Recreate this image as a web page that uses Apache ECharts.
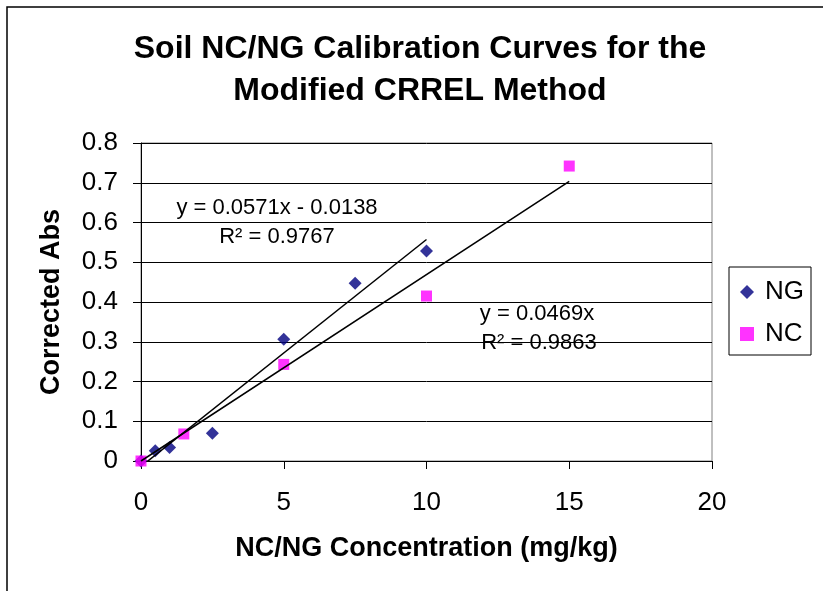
<!DOCTYPE html>
<html>
<head>
<meta charset="utf-8">
<script src="https://cdn.jsdelivr.net/npm/echarts@6/dist/echarts.min.js"></script>
<style>
    html, body { margin: 0; padding: 0; background: #fff; }
    #main { width: 823px; height: 591px; }
</style>
</head>
<body>
<div id="main"></div>
<script>
// concentration (mg/kg) vs corrected absorbance
var ngX = [0, 0.5, 1, 2.5, 5, 7.5, 10];
var ngY = [0, 0.026, 0.034, 0.070, 0.306, 0.447, 0.528];
var ncX = [0, 1.5, 5, 10, 15];
var ncY = [0, 0.068, 0.243, 0.415, 0.742];

// trendline coefficients as printed on the chart
var ngFit = {slope: 0.0571, intercept: -0.0138, r2: '0.9767'};
var ncFit = {slope: 0.0469, intercept: 0, r2: '0.9863'};

var xTicks = [0, 5, 10, 15, 20];
var yTicks = [0, 0.1, 0.2, 0.3, 0.4, 0.5, 0.6, 0.7, 0.8];

var FONT = '"Liberation Sans", Arial, sans-serif';

function pairs(xs, ys) {
    var out = [];
    for (var i = 0; i < xs.length; i++) {
        out.push([xs[i], ys[i]]);
    }
    return out;
}

function fitLine(xs, fit) {
    var x0 = Math.min.apply(null, xs), x1 = Math.max.apply(null, xs);
    return [[x0, fit.slope * x0 + fit.intercept], [x1, fit.slope * x1 + fit.intercept]];
}

function eqText(fit) {
    var s = 'y = ' + fit.slope + 'x';
    if (fit.intercept < 0) s += ' - ' + Math.abs(fit.intercept);
    else if (fit.intercept > 0) s += ' + ' + fit.intercept;
    return s;
}

var chart = echarts.init(document.getElementById('main'));

var option = {
    backgroundColor: '#fff',
    animation: false,
    title: {
        text: 'Soil NC/NG Calibration Curves for the\nModified CRREL Method',
        left: 415,
        top: 23,
        textAlign: 'center',
        textStyle: {
            fontFamily: FONT,
            fontSize: 32,
            fontWeight: 'bold',
            color: '#000',
            lineHeight: 42
        }
    },
    legend: {
        data: ['NG', 'NC'],
        orient: 'vertical',
        left: 729,
        top: 267,
        padding: [10, 7, 6, 11],
        itemGap: 12,
        itemWidth: 14,
        itemHeight: 14,
        borderColor: '#000',
        borderWidth: 1,
        backgroundColor: '#fff',
        textStyle: {
            fontFamily: FONT,
            fontSize: 26,
            color: '#000',
            lineHeight: 30,
            padding: [0, 0, 0, 6]
        }
    },
    grid: {
        left: 141,
        top: 143,
        right: 111,
        bottom: 130,
        show: true,
        borderColor: '#808080',
        borderWidth: 1,
        backgroundColor: '#fff'
    },
    xAxis: {
        type: 'value',
        min: xTicks[0],
        max: xTicks[xTicks.length - 1],
        interval: 5,
        name: 'NC/NG Concentration (mg/kg)',
        nameLocation: 'middle',
        nameGap: 74,
        nameTextStyle: {fontFamily: FONT, fontSize: 27, fontWeight: 'bold', color: '#000'},
        axisLine: {show: true, onZero: false, lineStyle: {color: '#000', width: 1}},
        axisTick: {show: true, inside: false, length: 8, lineStyle: {color: '#000'}},
        axisLabel: {fontFamily: FONT, fontSize: 26, color: '#000', margin: 29},
        splitLine: {show: false}
    },
    yAxis: {
        type: 'value',
        min: yTicks[0],
        max: yTicks[yTicks.length - 1],
        interval: 0.1,
        name: 'Corrected Abs',
        nameLocation: 'middle',
        nameGap: 76,
        nameTextStyle: {fontFamily: FONT, fontSize: 27, fontWeight: 'bold', color: '#000'},
        axisLine: {show: true, onZero: false, lineStyle: {color: '#000', width: 1}},
        axisTick: {show: true, inside: false, length: 8, lineStyle: {color: '#000'}},
        axisLabel: {
            fontFamily: FONT, fontSize: 26, color: '#000', margin: 23,
            formatter: function (v) { return String(+v.toFixed(1)); }
        },
        splitLine: {show: true, lineStyle: {color: '#000', width: 1}}
    },
    series: [
        {
            name: 'NG',
            type: 'scatter',
            symbol: 'diamond',
            symbolSize: 13,
            itemStyle: {color: '#000080'},
            data: pairs(ngX, ngY)
        },
        {
            name: 'NC',
            type: 'scatter',
            symbol: 'rect',
            symbolSize: 11,
            itemStyle: {color: '#FF00FF'},
            data: pairs(ncX, ncY)
        },
        {
            name: 'NG trend',
            type: 'line',
            symbol: 'none',
            silent: true,
            clip: true,
            lineStyle: {color: '#000', width: 1.5},
            data: fitLine(ngX, ngFit)
        },
        {
            name: 'NC trend',
            type: 'line',
            symbol: 'none',
            silent: true,
            clip: true,
            lineStyle: {color: '#000', width: 1.5},
            data: fitLine(ncX, ncFit)
        }
    ],
    graphic: [
        {
            type: 'rect',
            shape: {x: 7, y: 7, width: 840, height: 620},
            style: {fill: 'none', stroke: '#000', lineWidth: 1.5},
            silent: true,
            z: 0
        },
        {
            type: 'text', x: 277, y: 208,
            style: {text: eqText(ngFit), font: '22px ' + FONT, fill: '#000', textAlign: 'center', textVerticalAlign: 'middle'}
        },
        {
            type: 'text', x: 277, y: 237,
            style: {text: 'R\u00b2 = ' + ngFit.r2, font: '22px ' + FONT, fill: '#000', textAlign: 'center', textVerticalAlign: 'middle'}
        },
        {
            type: 'text', x: 537, y: 314,
            style: {text: eqText(ncFit), font: '22px ' + FONT, fill: '#000', textAlign: 'center', textVerticalAlign: 'middle'}
        },
        {
            type: 'text', x: 539, y: 343,
            style: {text: 'R\u00b2 = ' + ncFit.r2, font: '22px ' + FONT, fill: '#000', textAlign: 'center', textVerticalAlign: 'middle'}
        }
    ]
};

chart.setOption(option);
</script>
</body>
</html>
